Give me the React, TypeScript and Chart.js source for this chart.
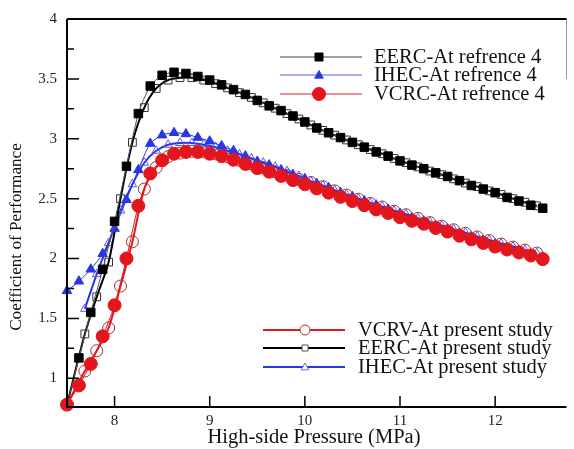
import React, { useEffect, useRef } from 'react';
import { Chart, registerables } from 'chart.js';

Chart.register(...registerables);

const refPressure = [7.5, 7.625, 7.75, 7.875, 8, 8.125, 8.25, 8.375, 8.5, 8.625, 8.75, 8.875, 9, 9.125, 9.25, 9.375, 9.5, 9.625, 9.75, 9.875, 10, 10.125, 10.25, 10.375, 10.5, 10.625, 10.75, 10.875, 11, 11.125, 11.25, 11.375, 11.5, 11.625, 11.75, 11.875, 12, 12.125, 12.25, 12.375, 12.5];
const eercRef = [0.78, 1.17, 1.55, 1.91, 2.31, 2.77, 3.21, 3.44, 3.53, 3.555, 3.545, 3.52, 3.49, 3.45, 3.41, 3.37, 3.32, 3.275, 3.235, 3.19, 3.14, 3.09, 3.05, 3.01, 2.97, 2.93, 2.89, 2.855, 2.815, 2.78, 2.75, 2.715, 2.685, 2.65, 2.61, 2.58, 2.55, 2.51, 2.48, 2.445, 2.42];
const ihecRef = [1.73, 1.81, 1.91, 2.04, 2.25, 2.49, 2.74, 2.96, 3.03, 3.05, 3.04, 3.01, 2.98, 2.94, 2.90, 2.855, 2.81, 2.78, 2.74, 2.70, 2.665, 2.625, 2.59, 2.55, 2.515, 2.48, 2.445, 2.41, 2.375, 2.34, 2.31, 2.275, 2.245, 2.21, 2.18, 2.15, 2.12, 2.09, 2.065, 2.035, 2.01];
const vcrcRef = [0.78, 0.94, 1.12, 1.35, 1.61, 2.0, 2.44, 2.71, 2.82, 2.875, 2.89, 2.89, 2.875, 2.855, 2.825, 2.79, 2.755, 2.725, 2.69, 2.655, 2.62, 2.585, 2.55, 2.515, 2.48, 2.445, 2.41, 2.38, 2.345, 2.315, 2.29, 2.255, 2.225, 2.19, 2.16, 2.13, 2.10, 2.075, 2.05, 2.025, 1.995];

const presentPressure = [7.5, 7.6875, 7.8125, 7.9375, 8.0625, 8.1875, 8.3125, 8.4375, 8.5625, 8.6875, 8.8125, 8.9375, 9.0625, 9.1875, 9.3125, 9.4375, 9.5625, 9.6875, 9.8125, 9.9375, 10.0625, 10.1875, 10.3125, 10.4375, 10.5625, 10.6875, 10.8125, 10.9375, 11.0625, 11.1875, 11.3125, 11.4375, 11.5625, 11.6875, 11.8125, 11.9375, 12.0625, 12.1875, 12.3125, 12.4375];
const eercPresent = [0.78, 1.37, 1.68, 1.97, 2.50, 2.97, 3.26, 3.42, 3.49, 3.51, 3.51, 3.49, 3.46, 3.425, 3.385, 3.345, 3.30, 3.255, 3.21, 3.165, 3.115, 3.07, 3.03, 2.99, 2.95, 2.91, 2.875, 2.835, 2.80, 2.765, 2.73, 2.70, 2.665, 2.63, 2.60, 2.565, 2.535, 2.50, 2.47, 2.44];
const vcrvPresent = [0.78, 1.06, 1.23, 1.42, 1.77, 2.14, 2.58, 2.76, 2.85, 2.88, 2.895, 2.89, 2.875, 2.85, 2.82, 2.79, 2.76, 2.725, 2.695, 2.66, 2.635, 2.60, 2.565, 2.53, 2.495, 2.46, 2.43, 2.395, 2.365, 2.335, 2.30, 2.27, 2.24, 2.21, 2.18, 2.15, 2.12, 2.095, 2.07, 2.045];
const ihecPresent = [null, 1.58, 1.87, 2.13, 2.40, 2.62, 2.80, 2.90, 2.95, 2.965, 2.965, 2.95, 2.93, 2.90, 2.87, 2.835, 2.80, 2.765, 2.73, 2.69, 2.645, 2.61, 2.57, 2.535, 2.50, 2.465, 2.435, 2.40, 2.37, 2.335, 2.305, 2.275, 2.245, 2.215, 2.185, 2.155, 2.125, 2.10, 2.07, 2.045];

const xTicks = [8, 9, 10, 11, 12];
const yTicks = [1, 1.5, 2, 2.5, 3, 3.5, 4];
const yMinorTicks = [1.25, 1.75, 2.25, 2.75, 3.25, 3.75];

const legendRef = ['EERC-At refrence 4', 'IHEC-At refrence 4', 'VCRC-At refrence 4'];
const legendPresent = ['VCRV-At present study', 'EERC-At present study', 'IHEC-At present study'];

const RED = '#e3161d';
const BLUE = '#2a35e6';
const BLACK = '#000000';
const SERIF = '"Liberation Serif", "DejaVu Serif", serif';

function pts(xs: number[], ys: (number | null)[]) {
  const out: { x: number; y: number }[] = [];
  xs.forEach((x, i) => {
    const y = ys[i];
    if (y !== null && y !== undefined) out.push({ x, y });
  });
  return out;
}

function drawMarker(ctx: CanvasRenderingContext2D, style: string, x: number, y: number, r: number, fill: string | null, stroke: string, lw: number) {
  ctx.save();
  ctx.beginPath();
  if (style === 'circle') {
    ctx.arc(x, y, r, 0, Math.PI * 2);
  } else if (style === 'rect') {
    ctx.rect(x - r, y - r, 2 * r, 2 * r);
  } else {
    ctx.moveTo(x, y - r);
    ctx.lineTo(x + r * 0.95, y + r * 0.7);
    ctx.lineTo(x - r * 0.95, y + r * 0.7);
    ctx.closePath();
  }
  if (fill) {
    ctx.fillStyle = fill;
    ctx.fill();
  }
  ctx.lineWidth = lw;
  ctx.strokeStyle = stroke;
  ctx.stroke();
  ctx.restore();
}

const framePlugin = {
  id: 'framePlugin',
  afterDraw(chart: any) {
    const ctx: CanvasRenderingContext2D = chart.ctx;
    const { left, right, top, bottom } = chart.chartArea;
    const xs = chart.scales.x;
    const ys = chart.scales.y;
    ctx.save();
    ctx.strokeStyle = '#999';
    ctx.lineWidth = 1;
    ctx.beginPath();
    ctx.moveTo(right, top);
    ctx.lineTo(right, top + 60);
    ctx.stroke();
    ctx.strokeStyle = BLACK;
    ctx.lineWidth = 2;
    ctx.beginPath();
    ctx.moveTo(left, top);
    ctx.lineTo(right, top);
    ctx.moveTo(left, top);
    ctx.lineTo(left, bottom);
    ctx.lineTo(right, bottom);
    ctx.stroke();
    ctx.lineWidth = 1.5;
    ctx.beginPath();
    yTicks.forEach((v) => {
      const py = ys.getPixelForValue(v);
      ctx.moveTo(left, py);
      ctx.lineTo(left + 12, py);
    });
    yMinorTicks.forEach((v) => {
      const py = ys.getPixelForValue(v);
      ctx.moveTo(left, py);
      ctx.lineTo(left + 7, py);
    });
    xTicks.forEach((v) => {
      const px = xs.getPixelForValue(v);
      ctx.moveTo(px, bottom);
      ctx.lineTo(px, bottom - 11);
    });
    ctx.stroke();
    ctx.fillStyle = '#111';
    ctx.font = `20.5px ${SERIF}`;
    ctx.textAlign = 'center';
    ctx.textBaseline = 'middle';
    ctx.fillText('High-side Pressure (MPa)', 314, 438);
    ctx.save();
    ctx.translate(16, 237);
    ctx.rotate(-Math.PI / 2);
    ctx.font = `17.2px ${SERIF}`;
    ctx.fillText('Coefficient of Performance', 0, 0);
    ctx.restore();
    const l1 = [
      { line: '#808080', lw: 1.5, style: 'rect', r: 4, fill: BLACK, stroke: BLACK },
      { line: '#5a5ae0', lw: 1, style: 'triangle', r: 4.5, fill: BLUE, stroke: BLUE },
      { line: '#c8202a', lw: 1, style: 'circle', r: 6.5, fill: RED, stroke: RED },
    ];
    const l1y = [57, 75, 94];
    ctx.font = `20.5px ${SERIF}`;
    ctx.textAlign = 'left';
    l1.forEach((s, i) => {
      ctx.strokeStyle = s.line;
      ctx.lineWidth = s.lw;
      ctx.beginPath();
      ctx.moveTo(280, l1y[i]);
      ctx.lineTo(362, l1y[i]);
      ctx.stroke();
      drawMarker(ctx, s.style, 319, l1y[i], s.r, s.fill, s.stroke, 1);
      ctx.fillStyle = '#111';
      ctx.fillText(legendRef[i], 374, l1y[i] + 1);
    });
    const l2 = [
      { line: RED, style: 'circle', r: 5, stroke: '#b03030' },
      { line: BLACK, style: 'rect', r: 3, stroke: '#555' },
      { line: BLUE, style: 'triangle', r: 4, stroke: '#6a6ae0' },
    ];
    const l2y = [330, 348, 367];
    l2.forEach((s, i) => {
      ctx.strokeStyle = s.line;
      ctx.lineWidth = 2;
      ctx.beginPath();
      ctx.moveTo(263, l2y[i]);
      ctx.lineTo(345, l2y[i]);
      ctx.stroke();
      drawMarker(ctx, s.style, 305, l2y[i], s.r, '#ffffff', s.stroke, 1);
      ctx.fillStyle = '#111';
      ctx.fillText(legendPresent[i], 358, l2y[i] + 1);
    });
    ctx.restore();
  },
};

export default function App() {
  const canvasRef = useRef<HTMLCanvasElement | null>(null);
  useEffect(() => {
    document.body.style.margin = '0';
    const canvas = canvasRef.current;
    if (!canvas) return;
    const chart = new Chart(canvas, {
      type: 'line',
      data: {
        datasets: [
          {
            label: legendRef[2],
            data: pts(refPressure, vcrcRef),
            borderColor: RED,
            borderWidth: 1,
            pointStyle: 'circle',
            pointRadius: 6.5,
            pointBackgroundColor: RED,
            pointBorderColor: RED,
            pointBorderWidth: 1,
            tension: 0.25,
            clip: false,
          },
          {
            label: legendRef[0],
            data: pts(refPressure, eercRef),
            borderColor: '#555',
            borderWidth: 1,
            pointStyle: 'rect',
            pointRadius: 6,
            pointBackgroundColor: BLACK,
            pointBorderColor: BLACK,
            pointBorderWidth: 1,
            tension: 0.25,
            clip: false,
          },
          {
            label: legendRef[1],
            data: pts(refPressure, ihecRef),
            borderColor: BLUE,
            borderWidth: 1,
            pointStyle: 'triangle',
            pointRadius: 5.5,
            pointBackgroundColor: BLUE,
            pointBorderColor: BLUE,
            pointBorderWidth: 1,
            tension: 0.25,
            clip: false,
          },
          {
            label: legendPresent[1],
            data: pts(presentPressure, eercPresent),
            borderColor: BLACK,
            borderWidth: 2,
            pointStyle: 'rect',
            pointRadius: 5.5,
            pointBackgroundColor: 'rgba(255,255,255,0)',
            pointBorderColor: '#333',
            pointBorderWidth: 1,
            tension: 0.3,
            clip: false,
          },
          {
            label: legendPresent[2],
            data: pts(presentPressure, ihecPresent),
            borderColor: BLUE,
            borderWidth: 2,
            pointStyle: 'triangle',
            pointRadius: 5,
            pointBackgroundColor: 'rgba(255,255,255,0)',
            pointBorderColor: '#5a5ae0',
            pointBorderWidth: 1,
            tension: 0.3,
            clip: false,
          },
          {
            label: legendPresent[0],
            data: pts(presentPressure, vcrvPresent),
            borderColor: RED,
            borderWidth: 2,
            pointStyle: 'circle',
            pointRadius: 6,
            pointBackgroundColor: 'rgba(255,255,255,0)',
            pointBorderColor: '#a03030',
            pointBorderWidth: 1,
            tension: 0.3,
            clip: false,
          },
        ],
      },
      options: {
        responsive: false,
        animation: false,
        layout: { padding: { left: 0, top: 19, right: 2, bottom: 0 } },
        plugins: { legend: { display: false }, tooltip: { enabled: false } },
        scales: {
          x: {
            type: 'linear',
            min: 7.5,
            max: 12.75,
            grid: { display: false, drawTicks: false },
            border: { display: false },
            afterBuildTicks: (scale: any) => {
              scale.ticks = xTicks.map((v) => ({ value: v }));
            },
            afterFit: (scale: any) => {
              scale.height = 42;
            },
            ticks: {
              padding: 5,
              color: '#222',
              font: { family: SERIF, size: 15 },
              callback: (v: any) => String(v),
            },
          },
          y: {
            type: 'linear',
            min: 0.76,
            max: 4,
            grid: { display: false, drawTicks: false },
            border: { display: false },
            afterBuildTicks: (scale: any) => {
              scale.ticks = yTicks.map((v) => ({ value: v }));
            },
            afterFit: (scale: any) => {
              scale.width = 67;
            },
            ticks: {
              padding: 10,
              color: '#222',
              font: { family: SERIF, size: 15 },
              callback: (v: any) => String(v),
            },
          },
        },
      },
      plugins: [framePlugin],
    } as any);
    return () => chart.destroy();
  }, []);
  return (
    <div style={{ width: 574, height: 449, background: '#fff' }}>
      <canvas ref={canvasRef} width={574} height={449} style={{ display: 'block' }} />
    </div>
  );
}
